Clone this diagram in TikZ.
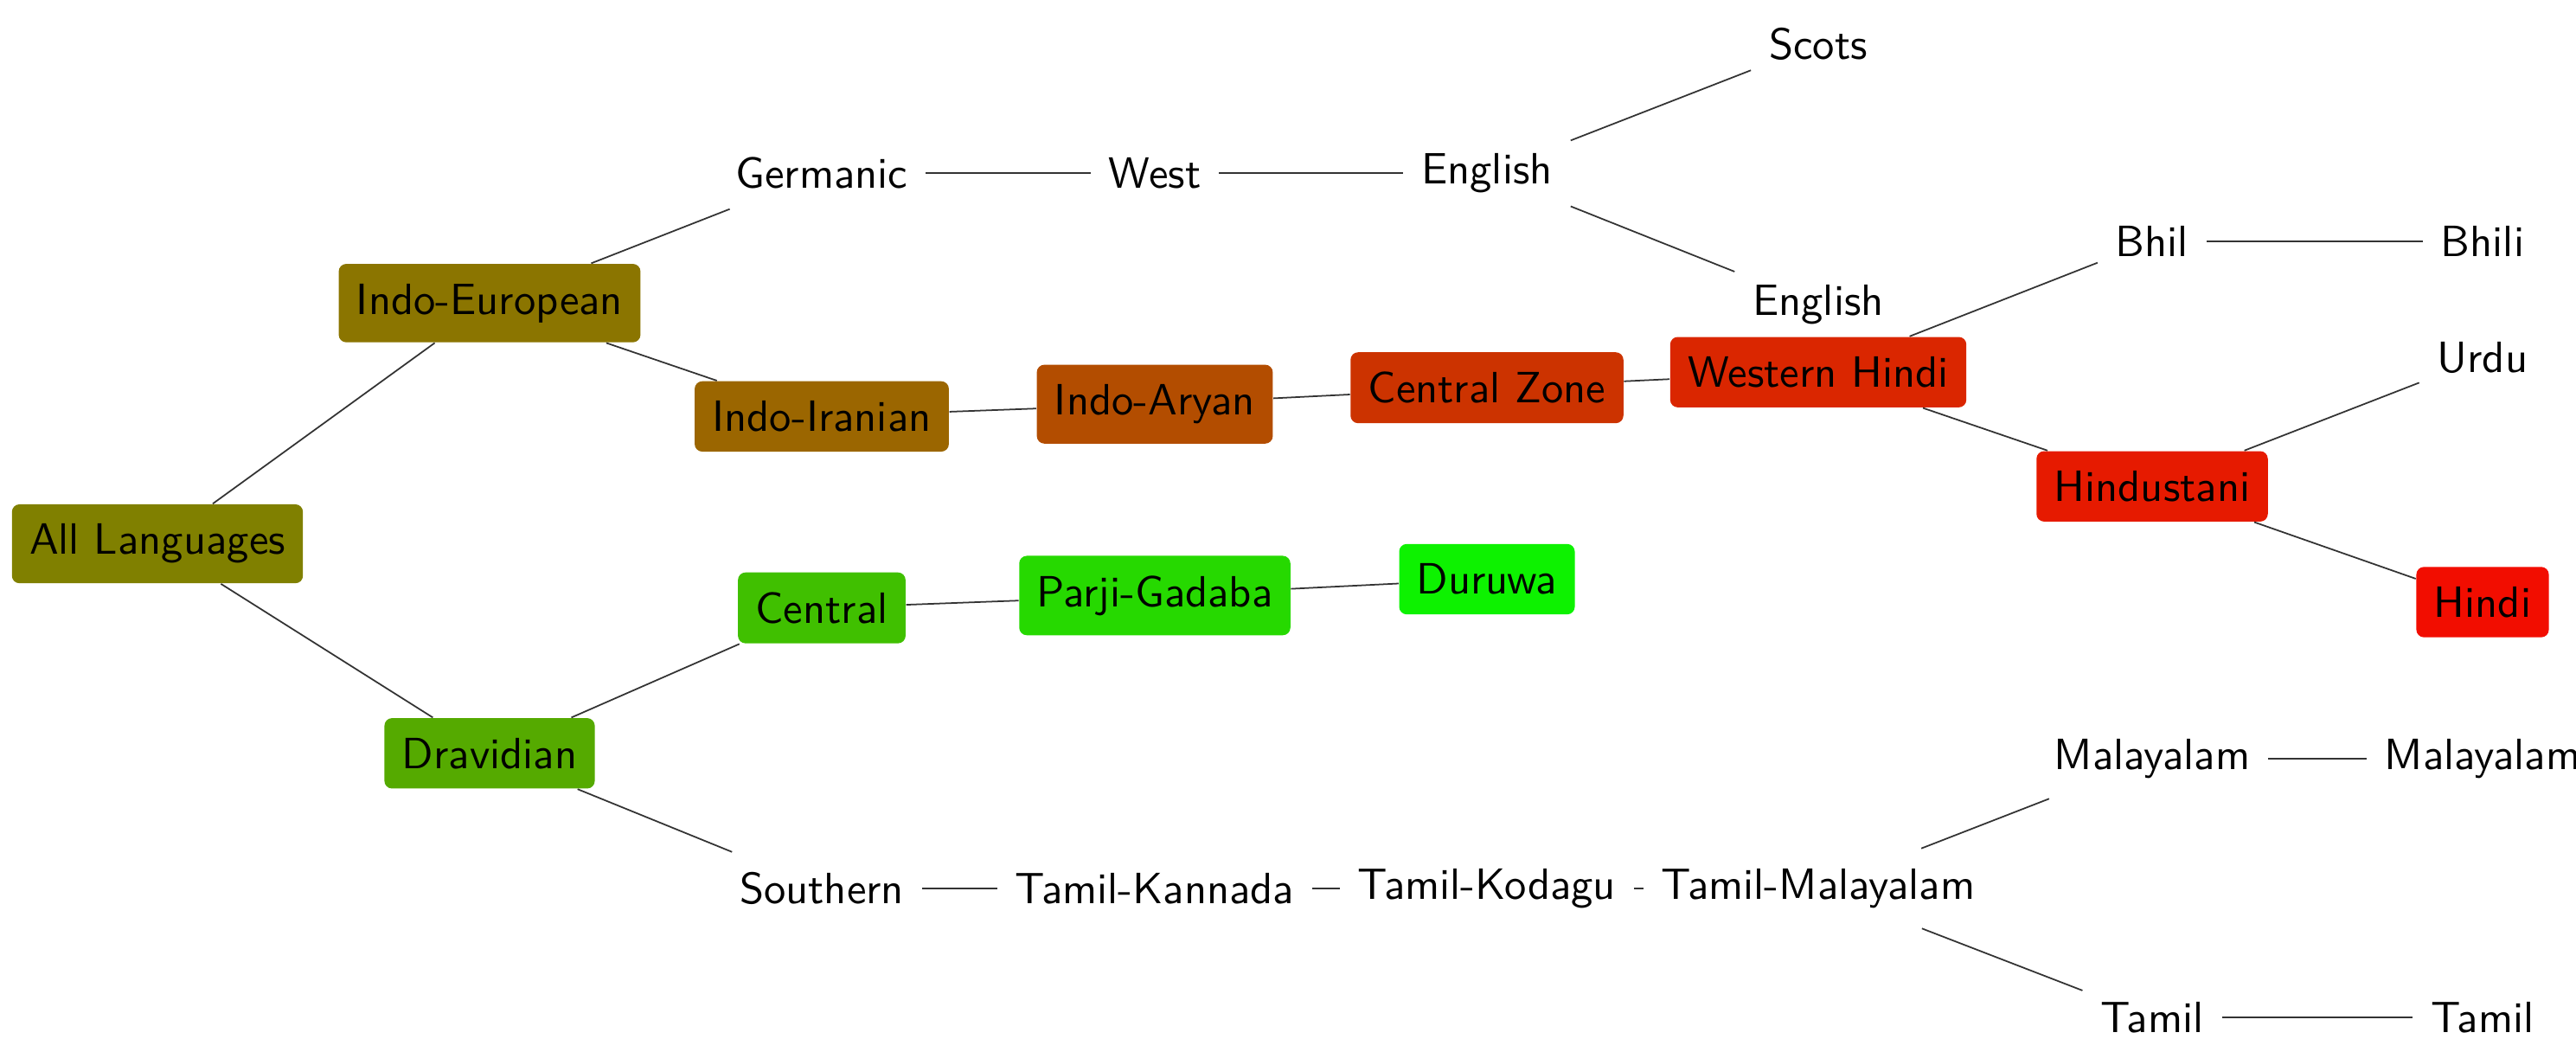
\documentclass[tikz,border=0pt]{standalone}
\usepackage{fontspec}
\setsansfont{lmsans10-regular.otf}
\definecolor{cAll}{RGB}{128,128,0}
\definecolor{cIE}{RGB}{139,117,0}
\definecolor{cII}{RGB}{155,102,0}
\definecolor{cIA}{RGB}{179,77,0}
\definecolor{cCZ}{RGB}{204,51,0}
\definecolor{cWH}{RGB}{218,38,0}
\definecolor{cHU}{RGB}{230,26,0}
\definecolor{cHI}{RGB}{242,13,0}
\definecolor{cDR}{RGB}{85,170,0}
\definecolor{cCE}{RGB}{64,192,0}
\definecolor{cPG}{RGB}{38,217,0}
\definecolor{cDU}{RGB}{13,242,0}
\begin{document}
\begin{tikzpicture}[
  every node/.style={font=\sffamily\fontsize{14.4}{17}\selectfont, inner xsep=5.8pt, inner ysep=6.5pt, text=black},
  lang/.style={rounded corners=2.5pt},
  plain/.style={},
  link/.style={draw=black!80, line width=0.5pt}
]
\clip (0,0) rectangle (29.78,12.01);
\useasboundingbox (0,0) rectangle (29.78,12.01);
% boxed nodes
\node[lang, fill=cAll] (all) at (1.82,5.724) {All Languages};
\node[lang, fill=cIE] (ie) at (5.66,8.506) {Indo-European};
\node[lang, fill=cDR] (dr) at (5.66,3.302) {Dravidian};
\node[lang, fill=cII] (ii) at (9.50,7.196) {Indo-Iranian};
\node[lang, fill=cIA] (ia) at (13.35,7.338) {Indo-Aryan};
\node[lang, fill=cCZ] (cz) at (17.19,7.528) {Central Zone};
\node[lang, fill=cWH] (wh) at (21.02,7.708) {Western Hindi};
\node[lang, fill=cHU] (hu) at (24.88,6.388) {Hindustani};
\node[lang, fill=cHI] (hi) at (28.70,5.05) {Hindi};
\node[lang, fill=cCE] (ce) at (9.50,4.983) {Central};
\node[lang, fill=cPG] (pg) at (13.35,5.126) {Parji-Gadaba};
\node[lang, fill=cDU] (du) at (17.19,5.315) {Duruwa};
% plain nodes
\node[plain] (ge) at (9.50,10.01) {Germanic};
\node[plain] (we) at (13.35,10.01) {West};
\node[plain] (en) at (17.19,10.01) {English};
\node[plain] (sc) at (21.02,11.50) {Scots};
\node[plain] (en2) at (21.02,8.485) {English};
\node[plain] (bh) at (24.88,9.22) {Bhil};
\node[plain] (bhi) at (28.70,9.22) {Bhili};
\node[plain] (ur) at (28.70,7.87) {Urdu};
\node[plain] (so) at (9.50,1.74) {Southern};
\node[plain] (tk) at (13.35,1.74) {Tamil-Kannada};
\node[plain] (tko) at (17.19,1.74) {Tamil-Kodagu};
\node[plain] (tm) at (21.02,1.74) {Tamil-Malayalam};
\node[plain] (ma) at (24.88,3.24) {Malayalam};
\node[plain] (ma2) at (28.70,3.24) {Malayalam};
\node[plain] (ta) at (24.88,0.25) {Tamil};
\node[plain] (ta2) at (28.70,0.25) {Tamil};
% connectors
\draw[link] (all) -- (ie);
\draw[link] (all) -- (dr);
\draw[link] (ie) -- (ge);
\draw[link] (ie) -- (ii);
\draw[link] (ge) -- (we);
\draw[link] (we) -- (en);
\draw[link] (en) -- (sc);
\draw[link] (en) -- (en2);
\draw[link] (ii) -- (ia);
\draw[link] (ia) -- (cz);
\draw[link] (cz) -- (wh);
\draw[link] (wh) -- (bh);
\draw[link] (bh) -- (bhi);
\draw[link] (wh) -- (hu);
\draw[link] (hu) -- (ur);
\draw[link] (hu) -- (hi);
\draw[link] (dr) -- (ce);
\draw[link] (ce) -- (pg);
\draw[link] (pg) -- (du);
\draw[link] (dr) -- (so);
\draw[link] (so) -- (tk);
\draw[link] (tk) -- (tko);
\draw[link] (tko) -- (tm);
\draw[link] (tm) -- (ma);
\draw[link] (ma) -- (ma2);
\draw[link] (tm) -- (ta);
\draw[link] (ta) -- (ta2);
\end{tikzpicture}
\end{document}
